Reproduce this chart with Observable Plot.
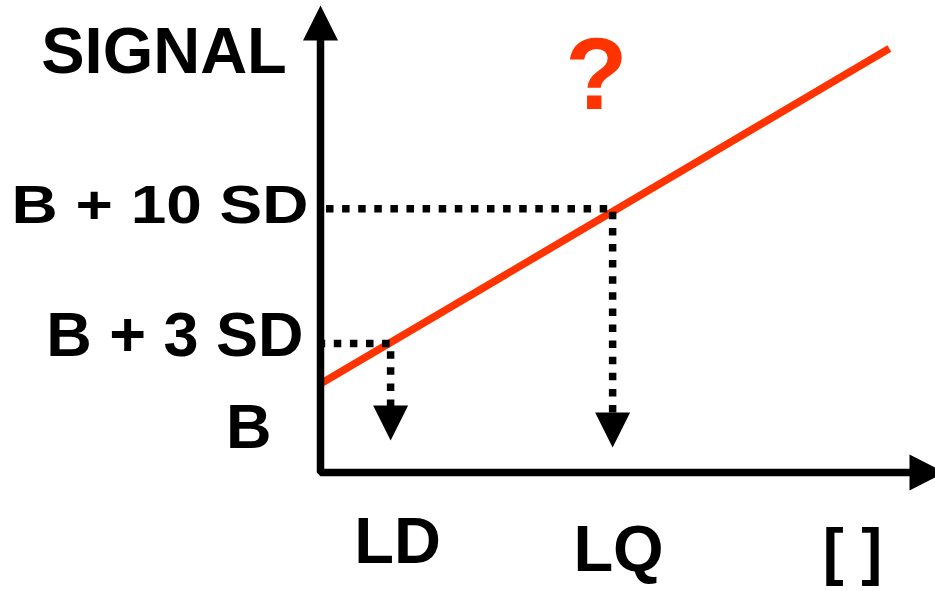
<!DOCTYPE html>
<html>
<head>
<meta charset="utf-8">
<script src="https://cdn.jsdelivr.net/npm/d3@7"></script>
<script src="https://cdn.jsdelivr.net/npm/@observablehq/plot@0.6"></script>
<style>
  html, body { margin: 0; padding: 0; background: #fff; overflow: hidden; }
  #chart svg { display: block; }
</style>
</head>
<body>
<div id="chart"></div>
<script>
// ---- data (arbitrary units) ----
// calibration line: concentration vs signal
const concentration = [0, 92.5];
const signal = [19, 90.8];
// limits of detection / quantification
const limitNames = ["LD", "LQ"];
const limitConc = [11.4, 47.5];
const limitSignal = [27.6, 56.5];
const limitArrowTip = [6.85, 5.35];
// signal level labels
const levelLabels = ["B", "B + 3 SD", "B + 10 SD"];
const levelValues = [19, 27.6, 56.5];
// axis titles
const axisTitles = ["SIGNAL", "[ ]"];
const questionMark = "?";

// ---- layout ----
const W = 935, H = 591;
const mL = 320, mR = 0, mT = 5, mB = 119;
const yUnitPerPx = 100 / (H - mT - mB);
const xUnitPerPx = 100 / (W - mL - mR);
const red = "#ff3300";
const font = "'Liberation Sans', Arial, Helvetica, sans-serif";

const calib = concentration.map((c, i) => ({c, s: signal[i]}));
const limits = limitNames.map((n, i) => ({name: n, c: limitConc[i], s: limitSignal[i], tip: limitArrowTip[i]}));
const dotted = limits.map(d => [
  {c: 0, s: d.s},
  {c: d.c, s: d.s},
  {c: d.c, s: d.tip + 34 * yUnitPerPx}
]);

const yTop = 100;                       // y-axis arrow tip
const xTop = 100 + 9 * xUnitPerPx;      // x-axis arrow tip (just past the frame)
const axisPath = [
  {c: 0, s: yTop - 34 * yUnitPerPx},
  {c: 0, s: 0},
  {c: xTop - 34 * xUnitPerPx, s: 0}
];

const triUp = {draw(ctx) { ctx.moveTo(0, 0); ctx.lineTo(17.5, 35); ctx.lineTo(-17.5, 35); ctx.closePath(); }};
const triDown = {draw(ctx) { ctx.moveTo(0, 0); ctx.lineTo(17.5, -35); ctx.lineTo(-17.5, -35); ctx.closePath(); }};
const triRight = {draw(ctx) { ctx.moveTo(0, 0); ctx.lineTo(-35, -18); ctx.lineTo(-35, 18); ctx.closePath(); }};

const txt = (t, x, baseline, size, anchor, fill = "black") =>
  Plot.text([t], {
    text: d => d,
    frameAnchor: "top-left",
    dx: x - mL,
    dy: baseline - mT,
    lineAnchor: "bottom",
    textAnchor: anchor,
    fontSize: size,
    fontWeight: "bold",
    fontFamily: font,
    fill
  });

const chart = Plot.plot({
  width: W,
  height: H,
  marginLeft: mL,
  marginRight: mR,
  marginTop: mT,
  marginBottom: mB,
  x: {domain: [0, 100], axis: null},
  y: {domain: [0, 100], axis: null},
  style: {background: "white", overflow: "hidden", fontFamily: font},
  marks: [
    // calibration line
    Plot.line(calib, {x: "c", y: "s", stroke: red, strokeWidth: 7.5, strokeLinecap: "butt"}),
    // dotted guides
    Plot.line(dotted[0], {x: "c", y: "s", stroke: "black", strokeWidth: 7.5, strokeDasharray: "7.5,8.6", strokeDashoffset: 2.8, strokeLinecap: "butt", strokeLinejoin: "miter"}),
    Plot.line(dotted[1], {x: "c", y: "s", stroke: "black", strokeWidth: 7.5, strokeDasharray: "7.5,8.6", strokeDashoffset: 10.6, strokeLinecap: "butt", strokeLinejoin: "miter"}),
    Plot.dot(limits, {x: "c", y: "tip", symbol: triDown, fill: "black", stroke: "none"}),
    // axes
    Plot.line(axisPath, {x: "c", y: "s", stroke: "black", strokeWidth: 7.5, strokeLinecap: "butt", strokeLinejoin: "miter"}),
    Plot.dot([{c: 0, s: yTop}], {x: "c", y: "s", symbol: triUp, fill: "black", stroke: "none"}),
    Plot.dot([{c: xTop, s: 0}], {x: "c", y: "s", symbol: triRight, fill: "black", stroke: "none"}),
    // texts
    txt(axisTitles[0], 163.5, 72, 65, "middle"),
    txt(questionMark, 596, 108, 102, "middle", red),
    txt(levelLabels[2], 308, 222, 54, "end"),
    txt(levelLabels[1], 303, 355, 63, "end"),
    txt(levelLabels[0], 271, 447, 63, "end"),
    txt(limitNames[0], 397, 562, 65, "middle"),
    txt(limitNames[1], 618, 570, 65, "middle"),
    txt(axisTitles[1], 852, 572, 63, "middle")
  ]
});

// stretch the wider "B + 10 SD" label as in the reference
d3.select(chart).selectAll("text").each(function() {
  if (this.textContent === levelLabels[2]) {
    this.setAttribute("textLength", 297);
    this.setAttribute("lengthAdjust", "spacingAndGlyphs");
  }
});

document.getElementById("chart").appendChild(chart);
</script>
</body>
</html>
